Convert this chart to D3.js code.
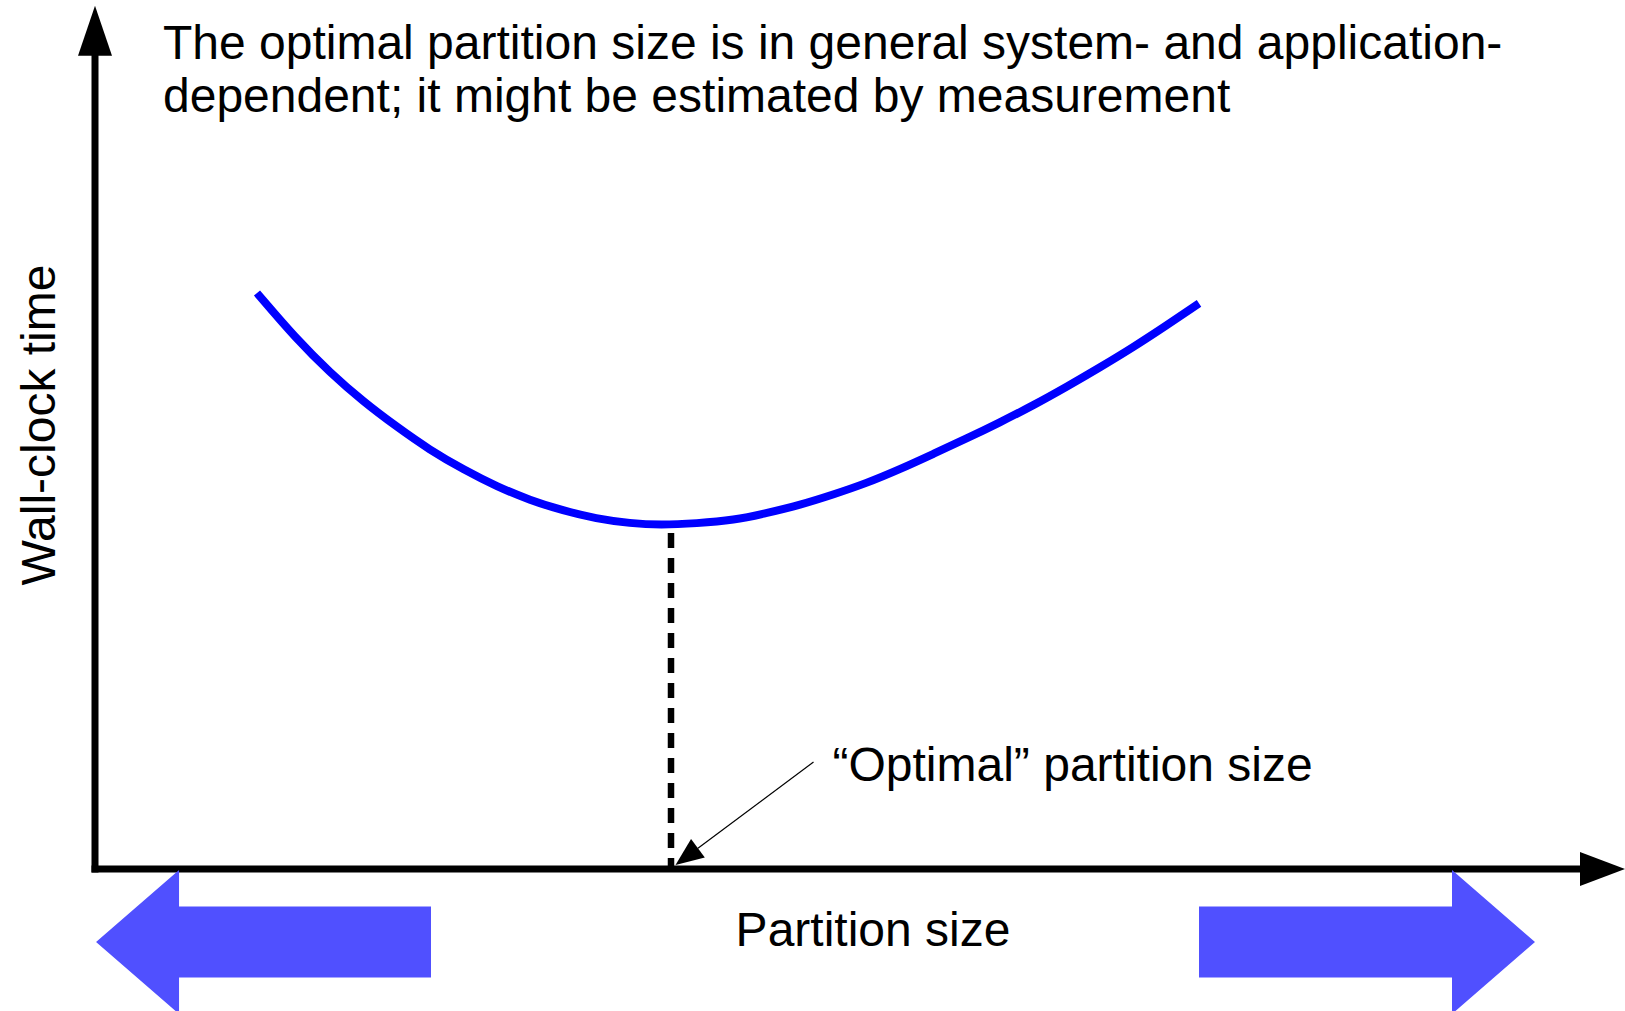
<!DOCTYPE html>
<html>
<head>
<meta charset="utf-8">
<script src="https://cdn.jsdelivr.net/npm/d3@7"></script>
<style>
  html, body { margin: 0; padding: 0; background: #fff; overflow: hidden; }
  svg { display: block; }
  text { font-family: "Liberation Sans", Arial, Helvetica, sans-serif; fill: #000; }
</style>
</head>
<body>
<div id="chart"></div>
<script>
// curve (arbitrary units, 0..100)
var partitionSize = [10.8, 13.4, 15.7, 17.9, 20.1, 22.3, 24.6, 26.8, 29.0, 31.2, 33.4, 35.7, 37.7,
  40.1, 42.6, 44.8, 47.0, 49.2, 51.4, 53.7, 55.9, 58.1, 60.3, 62.6, 64.8, 67.0, 69.2, 71.4, 73.6];
var wallClockTime = [72.0, 66.3, 62.0, 58.4, 55.3, 52.4, 49.9, 47.8, 46.1, 44.8, 43.8, 43.2, 43.0,
  43.2, 43.6, 44.5, 45.5, 46.8, 48.2, 50.0, 51.9, 53.8, 55.8, 58.0, 60.3, 62.7, 65.2, 67.9, 70.7];

var optimalSize = 38.4;
var optimalTime = 42.0;
var annotationTip = [38.7, 0.5];

var axisMax = { x: 102, y: 107.9 };
// blue direction arrows: [tail, tip] in partition-size units
var directionArrows = [[22.4, 0.07], [73.6, 96]];

var titleLines = [
  "The optimal partition size is in general system- and application-",
  "dependent; it might be estimated by measurement"
];
var xLabel = "Partition size";
var yLabel = "Wall-clock time";
var annotationLabel = "\u201cOptimal\u201d partition size";


var x = d3.scaleLinear().domain([0, 100]).range([95, 1595]);
var y = d3.scaleLinear().domain([0, 100]).range([869, 69]);

var svg = d3
  .select("#chart")
  .append("svg")
  .attr("width", 1625)
  .attr("height", 1011);

var axisWidth = 7;
var fontSize = "48px";

// y axis with arrow head
svg
  .append("line")
  .attr("x1", x(0))
  .attr("y1", y(0) + axisWidth / 2)
  .attr("x2", x(0))
  .attr("y2", y(axisMax.y) + 48)
  .attr("stroke", "#000")
  .attr("stroke-width", axisWidth);

svg
  .append("polygon")
  .attr("points", [
    [x(0), y(axisMax.y)],
    [x(0) - 17, y(axisMax.y) + 50],
    [x(0) + 17, y(axisMax.y) + 50]
  ].join(" "))
  .attr("fill", "#000");

// x axis with arrow head
svg
  .append("line")
  .attr("x1", x(0) - axisWidth / 2)
  .attr("y1", y(0))
  .attr("x2", x(axisMax.x) - 43)
  .attr("y2", y(0))
  .attr("stroke", "#000")
  .attr("stroke-width", axisWidth);

svg
  .append("polygon")
  .attr("points", [
    [x(axisMax.x), y(0)],
    [x(axisMax.x) - 45, y(0) - 17],
    [x(axisMax.x) - 45, y(0) + 17]
  ].join(" "))
  .attr("fill", "#000");

// the curve
var curveData = partitionSize.map(function (d, i) {
  return [d, wallClockTime[i]];
});

svg
  .append("path")
  .datum(curveData)
  .attr("d", d3
    .line()
    .x(function (d) { return x(d[0]); })
    .y(function (d) { return y(d[1]); })
    .curve(d3.curveBasis))
  .attr("fill", "none")
  .attr("stroke", "#0000ff")
  .attr("stroke-width", 8);

// dashed drop line at the optimum
svg
  .append("line")
  .attr("x1", x(optimalSize))
  .attr("y1", y(optimalTime))
  .attr("x2", x(optimalSize))
  .attr("y2", y(0))
  .attr("stroke", "#000")
  .attr("stroke-width", 6.5)
  .attr("stroke-dasharray", "15,10");

// annotation arrow
var tipX = x(annotationTip[0]),
  tipY = y(annotationTip[1]),
  tailX = tipX + 138,
  tailY = tipY - 103;
var len = Math.sqrt((tailX - tipX) * (tailX - tipX) + (tailY - tipY) * (tailY - tipY)),
  ux = (tipX - tailX) / len,
  uy = (tipY - tailY) / len,
  headLen = 28,
  headHalf = 11.5;

svg
  .append("line")
  .attr("x1", tailX)
  .attr("y1", tailY)
  .attr("x2", tipX - ux * headLen)
  .attr("y2", tipY - uy * headLen)
  .attr("stroke", "#000")
  .attr("stroke-width", 1.2);

svg
  .append("polygon")
  .attr("points", [
    [tipX, tipY],
    [tipX - ux * headLen - uy * headHalf, tipY - uy * headLen + ux * headHalf],
    [tipX - ux * headLen + uy * headHalf, tipY - uy * headLen - ux * headHalf]
  ].join(" "))
  .attr("fill", "#000");

svg
  .append("text")
  .attr("x", tailX + 19)
  .attr("y", tailY + 19)
  .style("font-size", fontSize)
  .text(annotationLabel);

// blue direction arrows under the x axis
var arrowY = y(0) + 73,
  bodyHalf = 35.5,
  headHalfH = 72,
  headLength = 83;

svg
  .selectAll(".dirArrow")
  .data(directionArrows)
  .enter()
  .append("polygon")
  .attr("class", "dirArrow")
  .attr("points", function (d) {
    var tail = x(d[0]),
      tip = x(d[1]),
      s = tip > tail ? 1 : -1,
      base = tip - s * headLength;
    return [
      [tail, arrowY - bodyHalf],
      [base, arrowY - bodyHalf],
      [base, arrowY - headHalfH],
      [tip, arrowY],
      [base, arrowY + headHalfH],
      [base, arrowY + bodyHalf],
      [tail, arrowY + bodyHalf]
    ].join(" ");
  })
  .attr("fill", "#5050ff");

// labels
svg
  .selectAll(".titleLine")
  .data(titleLines)
  .enter()
  .append("text")
  .attr("class", "titleLine")
  .attr("x", 163)
  .attr("y", function (d, i) { return 58.5 + i * 53; })
  .style("font-size", fontSize)
  .text(function (d) { return d; });

svg
  .append("text")
  .attr("x", 873)
  .attr("y", 946)
  .attr("text-anchor", "middle")
  .style("font-size", fontSize)
  .text(xLabel);

svg
  .append("text")
  .attr("transform", "translate(55,425) rotate(-90)")
  .attr("text-anchor", "middle")
  .style("font-size", fontSize)
  .text(yLabel);
</script>
</body>
</html>
